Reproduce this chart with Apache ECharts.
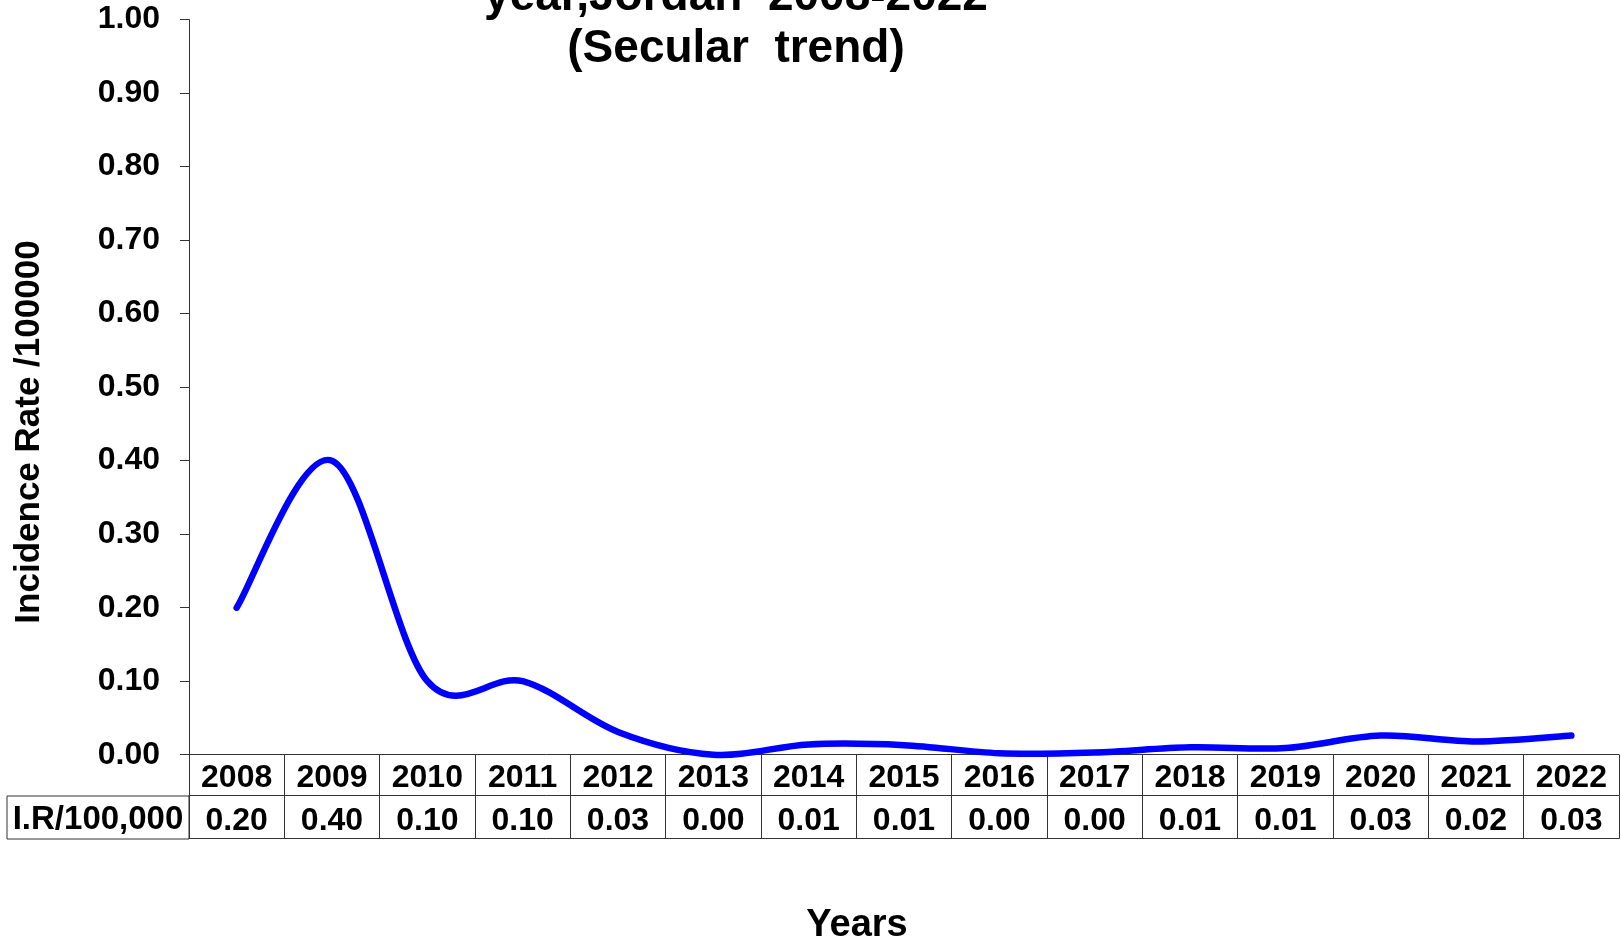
<!DOCTYPE html>
<html>
<head>
<meta charset="utf-8">
<title>Incidence rate, Jordan 2008-2022</title>
<script src="https://cdn.jsdelivr.net/npm/echarts@6/dist/echarts.min.js"></script>
<style>
	html, body { margin: 0; padding: 0; background: #fff; }
	#trendChart { width: 1621px; height: 942px; }
</style>
</head>
<body>
<div id="trendChart"></div>
<script>
// data
var years = ['2008', '2009', '2010', '2011', '2012', '2013', '2014', '2015', '2016', '2017', '2018', '2019', '2020', '2021', '2022'];
var rateLine = [0.20, 0.40, 0.10, 0.10, 0.031, 0.0, 0.014, 0.013, 0.002, 0.003, 0.010, 0.009, 0.026, 0.018, 0.026];
var rateTable = ['0.20', '0.40', '0.10', '0.10', '0.03', '0.00', '0.01', '0.01', '0.00', '0.00', '0.01', '0.01', '0.03', '0.02', '0.03'];
var yTicks = [0, 0.1, 0.2, 0.3, 0.4, 0.5, 0.6, 0.7, 0.8, 0.9, 1.0];

var FONT = '"Liberation Sans", Arial, sans-serif';
var BORDER = '#333';

var trendPage = {
	init: function() {
		this.chart = echarts.init(document.getElementById('trendChart'));
		this.initChart();
	},
	//表格下面的行 (axis used only as a table row)
	tableAxis: function(offset, showLabel, tickLen) {
		return {
			type: 'category',
			position: 'bottom',
			offset: offset,
			data: years,
			boundaryGap: true,
			axisLine: { show: true, lineStyle: { color: BORDER, width: 1 } },
			axisTick: { show: tickLen > 0, length: tickLen, lineStyle: { color: BORDER, width: 1 } },
			axisLabel: {
				show: showLabel,
				margin: 9,
				lineHeight: 32,
				color: '#000',
				fontFamily: FONT,
				fontWeight: 'bold',
				fontSize: 32,
				formatter: function(val, idx) {
					return rateTable[idx];
				}
			},
			splitLine: { show: false }
		};
	},
	// Excel-like smoothed line: cardinal bezier through the points
	renderSmooth: function(params, api) {
		if (params.dataIndex !== 0) return null;
		var pts = rateLine.map(function(v, i) {
			return api.coord([i, v]);
		});
		var d = 'M' + pts[0][0] + ' ' + pts[0][1];
		for (var i = 0; i < pts.length - 1; i++) {
			var p0 = pts[i - 1] || pts[i];
			var p1 = pts[i];
			var p2 = pts[i + 1];
			var p3 = pts[i + 2] || p2;
			var c1x = p1[0] + (p2[0] - p0[0]) / 6;
			var c1y = p1[1] + (p2[1] - p0[1]) / 6;
			var c2x = p2[0] - (p3[0] - p1[0]) / 6;
			var c2y = p2[1] - (p3[1] - p1[1]) / 6;
			d += ' C' + c1x + ' ' + c1y + ' ' + c2x + ' ' + c2y + ' ' + p2[0] + ' ' + p2[1];
		}
		return {
			type: 'path',
			shape: { pathData: d },
			style: {
				fill: 'none',
				stroke: '#0000ff',
				lineWidth: 6.5,
				lineCap: 'round',
				lineJoin: 'round'
			}
		};
	},
	initChart: function() {
		var self = this;
		var option = {
			backgroundColor: '#fff',
			animation: false,
			grid: {
				left: 189,
				right: 2,
				top: 19.6,
				bottom: 187.3,
				containLabel: false
			},
			xAxis: [{
				type: 'category',
				position: 'bottom',
				data: years,
				boundaryGap: true,
				axisLine: { show: true, lineStyle: { color: BORDER, width: 1 } },
				axisTick: { show: true, length: 41, lineStyle: { color: BORDER, width: 1 } },
				axisLabel: {
					margin: 7,
					lineHeight: 32,
					color: '#000',
					fontFamily: FONT,
					fontWeight: 'bold',
					fontSize: 32,
					interval: 0
				},
				splitLine: { show: false }
			},
				this.tableAxis(41, true, 43),
				this.tableAxis(84, false, 0)
			],
			yAxis: [{
				type: 'value',
				min: yTicks[0],
				max: yTicks[yTicks.length - 1],
				interval: 0.1,
				axisLine: { show: true, lineStyle: { color: BORDER, width: 1 } },
				axisTick: { show: true, length: 9, lineStyle: { color: BORDER, width: 1 } },
				axisLabel: {
					margin: 29,
					color: '#000',
					fontFamily: FONT,
					fontWeight: 'bold',
					fontSize: 32,
					formatter: function(v) {
						return v.toFixed(2);
					}
				},
				splitLine: { show: false }
			}],
			series: [{
				name: 'I.R/100,000',
				type: 'custom',
				xAxisIndex: 0,
				yAxisIndex: 0,
				clip: false,
				data: rateLine.map(function(v, i) {
					return [i, v];
				}),
				encode: { x: 0, y: 1 },
				renderItem: function(params, api) {
					return self.renderSmooth(params, api);
				}
			}],
			graphic: [{
				//标题 (top line is cut off in the original)
				type: 'text',
				x: 736,
				y: -29,
				style: {
					text: 'year,Jordan  2008-2022\n(Secular  trend)',
					font: 'bold 46px ' + FONT,
					lineHeight: 52,
					fill: '#000',
					textAlign: 'center',
					textVerticalAlign: 'top'
				}
			}, {
				type: 'text',
				x: 29,
				y: 432,
				rotation: Math.PI / 2,
				style: {
					text: 'Incidence Rate /100000',
					font: 'bold 35px ' + FONT,
					fill: '#000',
					textAlign: 'center',
					textVerticalAlign: 'middle'
				}
			}, {
				type: 'text',
				x: 857,
				y: 926,
				style: {
					text: 'Years',
					font: 'bold 38px ' + FONT,
					fill: '#000',
					textAlign: 'center',
					textVerticalAlign: 'middle'
				}
			}, {
				//左边的表头格
				type: 'rect',
				shape: { x: 7, y: 796, width: 182, height: 43 },
				style: { fill: 'none', stroke: BORDER, lineWidth: 1 }
			}, {
				type: 'text',
				x: 98,
				y: 820,
				style: {
					text: 'I.R/100,000',
					font: 'bold 33px ' + FONT,
					fill: '#000',
					textAlign: 'center',
					textVerticalAlign: 'middle'
				}
			}]
		};
		this.chart.setOption(option, true);
	}
};

trendPage.init();
</script>
</body>
</html>
